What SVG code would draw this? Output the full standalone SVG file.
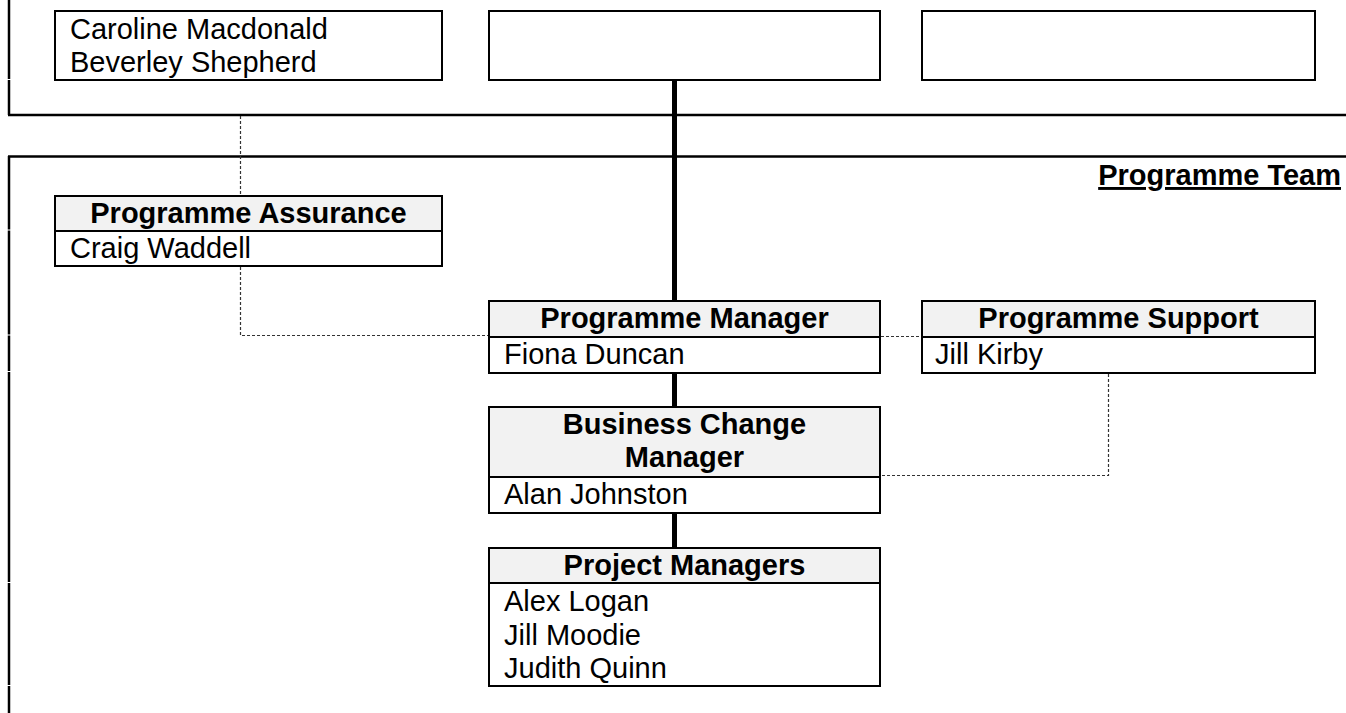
<svg xmlns="http://www.w3.org/2000/svg" width="1346" height="713" viewBox="0 0 1346 713">
<style>
text{font-family:"Liberation Sans",Arial,sans-serif;font-size:29px;fill:#000}
.h{font-weight:bold;text-anchor:middle}
.box{fill:#fff;stroke:#000;stroke-width:2}
.hd{fill:#f2f2f2;stroke:#000;stroke-width:2}
.frame{stroke:#000;stroke-width:2.5;fill:none}
.solid{stroke:#000;stroke-width:5;fill:none}
.dash{stroke:#333;stroke-width:1.2;stroke-dasharray:3 2;fill:none}
</style>
<rect width="1346" height="713" fill="#fff"/>
<g id="frame">
<line class="frame" x1="9" y1="0" x2="9" y2="79"/>
<line class="frame" x1="9" y1="80" x2="9" y2="115"/>
<line class="frame" x1="8" y1="115" x2="1346" y2="115"/>
<line class="frame" x1="8" y1="156.5" x2="1346" y2="156.5"/>
<line class="frame" x1="9" y1="156" x2="9" y2="229.5"/>
<line class="frame" x1="9" y1="230.5" x2="9" y2="334.5"/>
<line class="frame" x1="9" y1="335.5" x2="9" y2="371"/>
<line class="frame" x1="9" y1="372" x2="9" y2="582"/>
<line class="frame" x1="9" y1="583" x2="9" y2="685"/>
<line class="frame" x1="9" y1="686" x2="9" y2="713"/>
</g>
<g id="connectors">
<line class="solid" x1="674.5" y1="80" x2="674.5" y2="301"/>
<line class="solid" x1="674.5" y1="373" x2="674.5" y2="407"/>
<line class="solid" x1="674.5" y1="513" x2="674.5" y2="548"/>
<polyline class="dash" points="240.5,116 240.5,195"/>
<polyline class="dash" points="240.5,267 240.5,335.5 488,335.5"/>
<polyline class="dash" points="881,336.5 921,336.5"/>
<polyline class="dash" points="1108.5,374 1108.5,475.5 881,475.5"/>
</g>
<g id="top-left">
<rect class="box" x="55" y="11" width="387" height="69"/>
<text x="70" y="39">Caroline Macdonald</text>
<text x="70" y="72">Beverley Shepherd</text>
</g>
<g id="top-middle">
<rect class="box" x="489" y="11" width="391" height="69"/>
</g>
<g id="top-right">
<rect class="box" x="922" y="11" width="393" height="69"/>
</g>
<g id="programme-team-label">
<text x="1341" y="185" font-weight="bold" text-anchor="end" text-decoration="underline">Programme Team</text>
</g>
<g id="programme-assurance">
<rect class="hd" x="55" y="196" width="387" height="35"/>
<rect class="box" x="55" y="231" width="387" height="35"/>
<text class="h" x="248.5" y="223">Programme Assurance</text>
<text x="70" y="258">Craig Waddell</text>
</g>
<g id="programme-manager">
<rect class="hd" x="489" y="301" width="391" height="36"/>
<rect class="box" x="489" y="337" width="391" height="36"/>
<text class="h" x="684.5" y="328">Programme Manager</text>
<text x="504" y="364">Fiona Duncan</text>
</g>
<g id="programme-support">
<rect class="hd" x="922" y="301" width="393" height="36"/>
<rect class="box" x="922" y="337" width="393" height="36"/>
<text class="h" x="1118.5" y="328">Programme Support</text>
<text x="935" y="364">Jill Kirby</text>
</g>
<g id="business-change-manager">
<rect class="hd" x="489" y="407" width="391" height="70"/>
<rect class="box" x="489" y="477" width="391" height="36"/>
<text class="h" x="684.5" y="434">Business Change</text>
<text class="h" x="684.5" y="467">Manager</text>
<text x="504" y="504">Alan Johnston</text>
</g>
<g id="project-managers">
<rect class="hd" x="489" y="548" width="391" height="35"/>
<rect class="box" x="489" y="583" width="391" height="103"/>
<text class="h" x="684.5" y="575">Project Managers</text>
<text x="504" y="611">Alex Logan</text>
<text x="504" y="644.5">Jill Moodie</text>
<text x="504" y="678">Judith Quinn</text>
</g>
</svg>
